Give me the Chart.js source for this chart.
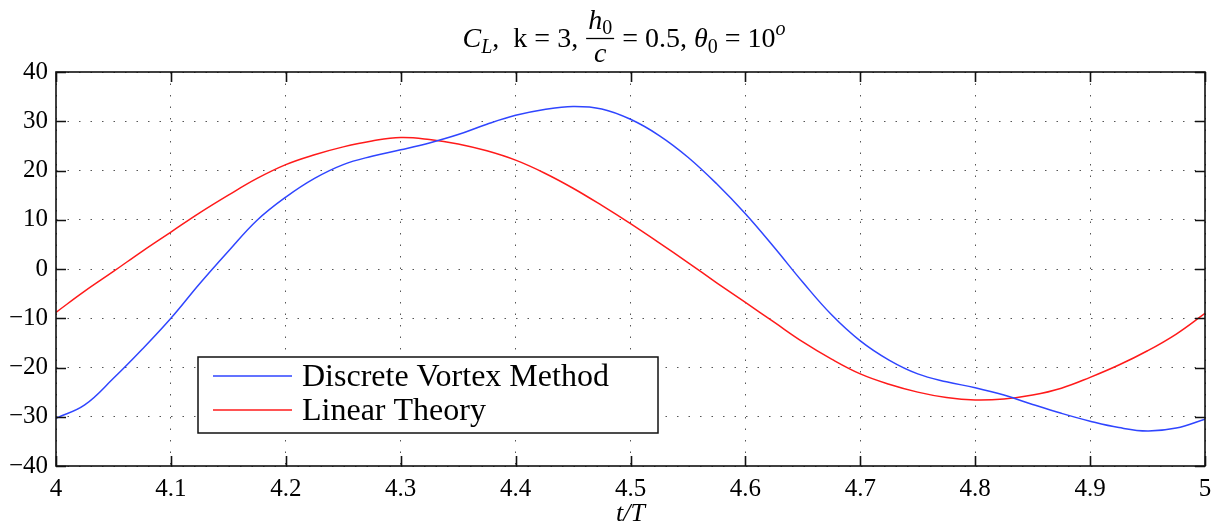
<!DOCTYPE html>
<html>
<head>
<meta charset="utf-8">
<script src="https://cdn.jsdelivr.net/npm/chart.js@4.4.1/dist/chart.umd.min.js"></script>
<style>
  html, body { margin: 0; padding: 0; background: #fff; }
  #wrap { width: 1223px; height: 530px; position: relative; }
</style>
</head>
<body>
<div id="wrap"><canvas id="cl"></canvas></div>
<script>
// t/T sample points
const tValues = [
  4.000, 4.025, 4.050, 4.075, 4.100, 4.125, 4.150, 4.175, 4.200, 4.225,
  4.250, 4.275, 4.300, 4.325, 4.350, 4.375, 4.400, 4.425, 4.450, 4.475,
  4.500, 4.525, 4.550, 4.575, 4.600, 4.625, 4.650, 4.675, 4.700, 4.725,
  4.750, 4.775, 4.800, 4.825, 4.850, 4.875, 4.900, 4.925, 4.950, 4.975, 5.000
];
// Discrete Vortex Method (blue)
const dvmValues = [
  -30.3, -27.6, -22.2, -16.3, -10.0, -3.0, 3.6, 9.9, 14.6, 18.4,
  21.2, 22.9, 24.2, 25.6, 27.3, 29.4, 31.2, 32.4, 33.0, 32.5,
  30.4, 27.1, 22.7, 17.3, 11.2, 4.4, -2.7, -9.3, -14.6, -18.5,
  -21.3, -22.9, -24.1, -25.6, -27.5, -29.3, -30.9, -32.2, -32.9, -32.3, -30.5
];
// Linear Theory (red)
const linearValues = [
  -8.8, -4.5, -0.5, 3.6, 7.5, 11.4, 15.0, 18.4, 21.2, 23.2,
  24.8, 26.0, 26.7, 26.3, 25.4, 24.0, 22.1, 19.5, 16.4, 12.9,
  9.2, 5.3, 1.3, -2.8, -6.8, -10.8, -14.8, -18.3, -21.3, -23.4,
  -25.0, -26.1, -26.6, -26.4, -25.6, -24.2, -22.0, -19.5, -16.6, -13.2, -9.0
];
const seriesLabels = ['Discrete Vortex Method', 'Linear Theory'];
const xTicks = [4, 4.1, 4.2, 4.3, 4.4, 4.5, 4.6, 4.7, 4.8, 4.9, 5];
const xTickLabels = ['4', '4.1', '4.2', '4.3', '4.4', '4.5', '4.6', '4.7', '4.8', '4.9', '5'];
const yTicks = [-40, -30, -20, -10, 0, 10, 20, 30, 40];

const SERIF = "'Liberation Serif', 'DejaVu Serif', serif";

function pts(ys) { return tValues.map((t, i) => ({ x: t, y: ys[i] })); }

// frame, inward ticks, legend and the title with its fraction
const matlabLook = {
  id: 'matlabLook',
  afterDatasetsDraw(chart) {
    const { ctx, chartArea: a, scales: { x, y } } = chart;
    ctx.save();
    ctx.strokeStyle = '#111';
    ctx.lineWidth = 1.6;
    const tl = 10;
    ctx.beginPath();
    xTicks.forEach(v => {
      const px = Math.round(x.getPixelForValue(v)) + 0.5;
      ctx.moveTo(px, a.bottom); ctx.lineTo(px, a.bottom - tl);
      ctx.moveTo(px, a.top); ctx.lineTo(px, a.top + tl);
    });
    yTicks.forEach(v => {
      const py = Math.round(y.getPixelForValue(v)) + 0.5;
      ctx.moveTo(a.left, py); ctx.lineTo(a.left + tl, py);
      ctx.moveTo(a.right, py); ctx.lineTo(a.right - tl, py);
    });
    ctx.stroke();
    ctx.strokeRect(a.left, a.top, a.right - a.left, a.bottom - a.top);

    // legend box
    const lx = 198, ly = 357, lw = 460, lh = 76;
    ctx.fillStyle = '#fff';
    ctx.fillRect(lx, ly, lw, lh);
    ctx.lineWidth = 1.5;
    ctx.strokeRect(lx, ly, lw, lh);
    chart.data.datasets.forEach((ds, i) => {
      const yy = ly + 19 + i * 34;
      ctx.strokeStyle = ds.borderColor;
      ctx.lineWidth = 1.5;
      ctx.beginPath(); ctx.moveTo(213, yy); ctx.lineTo(292, yy); ctx.stroke();
      ctx.fillStyle = '#000';
      ctx.font = '32px ' + SERIF;
      ctx.textBaseline = 'alphabetic';
      ctx.fillText(ds.label, 302, yy + 10);
    });

    // title: C_L,  k = 3, h0/c = 0.5, θ0 = 10^o
    const base = 47;
    const it = 'italic 28px ' + SERIF, rm = '28px ' + SERIF;
    const itS = 'italic 20px ' + SERIF, rmS = '20px ' + SERIF;
    const parts = [
      { t: 'C', f: it, dy: 0 }, { t: 'L', f: itS, dy: 6 },
      { t: ',  k = 3, ', f: rm, dy: 0 },
      { frac: true },
      { t: ' = 0.5, ', f: rm, dy: 0 },
      { t: 'θ', f: it, dy: 0 }, { t: '0', f: rmS, dy: 6 },
      { t: ' = 10', f: rm, dy: 0 }, { t: 'o', f: itS, dy: -12 }
    ];
    const wOf = (t, f) => { ctx.font = f; return ctx.measureText(t).width; };
    const fracW = Math.max(wOf('h', it) + wOf('0', rmS), wOf('c', it)) + 6;
    let total = 0;
    parts.forEach(p => { total += p.frac ? fracW : wOf(p.t, p.f); });
    let cx = 624 - total / 2;
    ctx.fillStyle = '#000';
    parts.forEach(p => {
      if (p.frac) {
        const nw = wOf('h', it) + wOf('0', rmS);
        let nx = cx + (fracW - nw) / 2;
        ctx.font = it; ctx.fillText('h', nx, base - 18);
        nx += wOf('h', it);
        ctx.font = rmS; ctx.fillText('0', nx, base - 13);
        ctx.font = it; ctx.fillText('c', cx + (fracW - wOf('c', it)) / 2, base + 15);
        ctx.strokeStyle = '#000'; ctx.lineWidth = 1.3;
        ctx.beginPath(); ctx.moveTo(cx + 1, base - 8.5); ctx.lineTo(cx + fracW - 1, base - 8.5); ctx.stroke();
        cx += fracW;
      } else {
        ctx.font = p.f;
        ctx.fillText(p.t, cx, base + p.dy);
        cx += ctx.measureText(p.t).width;
      }
    });
    ctx.restore();
  }
};

const gridOpts = { color: '#555', lineWidth: 1, drawTicks: false };
const borderOpts = { display: false, dash: [1.5, 10] };

new Chart(document.getElementById('cl'), {
  type: 'line',
  data: {
    datasets: [
      { label: seriesLabels[0], data: pts(dvmValues), borderColor: '#2f45ff', borderWidth: 1.5,
        pointRadius: 0, tension: 0.4, fill: false },
      { label: seriesLabels[1], data: pts(linearValues), borderColor: '#ff1a1a', borderWidth: 1.5,
        pointRadius: 0, tension: 0.4, fill: false }
    ]
  },
  options: {
    responsive: true,
    maintainAspectRatio: false,
    animation: false,
    layout: { padding: { top: 72, right: 18, left: 0, bottom: 0 } },
    plugins: { legend: { display: false }, title: { display: false }, tooltip: { enabled: false } },
    scales: {
      x: {
        type: 'linear', min: 4, max: 5,
        afterBuildTicks: s => { s.ticks = xTicks.map(v => ({ value: v })); },
        afterFit: s => { s.height = 64; },
        grid: gridOpts, border: borderOpts,
        ticks: {
          color: '#000', padding: 8, maxRotation: 0, autoSkip: false,
          font: { family: SERIF, size: 25 },
          callback: v => xTickLabels[xTicks.findIndex(t => Math.abs(t - v) < 1e-6)]
        },
        title: { display: true, text: 't/T', color: '#000',
          font: { family: SERIF, size: 26, style: 'italic' }, padding: { top: 0, bottom: 0 } }
      },
      y: {
        min: -40, max: 40,
        afterBuildTicks: s => { s.ticks = yTicks.map(v => ({ value: v })); },
        afterFit: s => { s.width = 56; },
        grid: gridOpts, border: borderOpts,
        ticks: {
          color: '#000', padding: 8,
          font: { family: SERIF, size: 25 },
          callback: v => String(v).replace('-', '\u2212')
        }
      }
    }
  },
  plugins: [matlabLook]
});
</script>
</body>
</html>
